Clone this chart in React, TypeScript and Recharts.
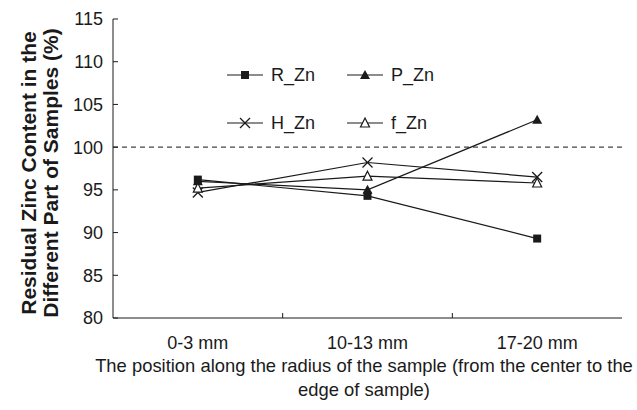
import { LineChart, Line, XAxis, YAxis, ReferenceLine, Legend } from "recharts"

const positions = ["0-3 mm", "10-13 mm", "17-20 mm"]
const slots = [0.5, 1.5, 2.5]
const rZn = [96.2, 94.3, 89.3]
const pZn = [96.0, 95.0, 103.2]
const hZn = [94.7, 98.2, 96.5]
const fZn = [95.2, 96.6, 95.8]
const yTicks = [80, 85, 90, 95, 100, 105, 110, 115]
const xTicks = [0.5, 1, 1.5, 2, 2.5]

const data = positions.map((label, i) => ({
  slot: slots[i],
  label,
  R_Zn: rZn[i],
  P_Zn: pZn[i],
  H_Zn: hZn[i],
  f_Zn: fZn[i],
}))

const font = "'Liberation Sans', Arial, Helvetica, sans-serif"
const ink = "#1a1a1a"

type Shape = "square" | "triangle" | "cross" | "openTriangle"

function Marker({ cx, cy, shape }: { cx: number; cy: number; shape: Shape }) {
  if (cx == null || cy == null) return null
  if (shape === "square") return <rect x={cx - 4} y={cy - 4} width={8} height={8} fill={ink} />
  if (shape === "triangle")
    return <polygon points={`${cx},${cy - 5} ${cx + 5},${cy + 4} ${cx - 5},${cy + 4}`} fill={ink} />
  if (shape === "openTriangle")
    return (
      <polygon
        points={`${cx},${cy - 5} ${cx + 4.5},${cy + 4} ${cx - 4.5},${cy + 4}`}
        fill="#fff"
        stroke={ink}
        strokeWidth={1.2}
      />
    )
  return (
    <g stroke={ink} strokeWidth={1.3}>
      <line x1={cx - 5} y1={cy - 5} x2={cx + 5} y2={cy + 5} />
      <line x1={cx - 5} y1={cy + 5} x2={cx + 5} y2={cy - 5} />
    </g>
  )
}

const series: { key: string; shape: Shape }[] = [
  { key: "R_Zn", shape: "square" },
  { key: "P_Zn", shape: "triangle" },
  { key: "H_Zn", shape: "cross" },
  { key: "f_Zn", shape: "openTriangle" },
]

function XTick(props: any) {
  const { x, y, payload } = props
  const v = payload.value as number
  if (Number.isInteger(v)) {
    return <line x1={x} y1={y} x2={x} y2={y - 5} stroke={ink} />
  }
  const idx = slots.indexOf(v)
  return (
    <text x={x} y={y + 25} dy="0.36em" textAnchor="middle" fontSize={18} fontFamily={font} fill={ink}>
      {positions[idx]}
    </text>
  )
}

function renderLegend() {
  const items = [
    { ...series[0], left: 0, top: 0 },
    { ...series[1], left: 120, top: 0 },
    { ...series[2], left: 0, top: 48 },
    { ...series[3], left: 120, top: 48 },
  ]
  return (
    <div style={{ position: "relative", width: 230, height: 70, fontFamily: font }}>
      {items.map((it) => (
        <div
          key={it.key}
          style={{ position: "absolute", left: it.left, top: it.top, display: "flex", alignItems: "center", height: 22 }}
        >
          <svg width={38} height={22}>
            <line x1={0} y1={11} x2={36} y2={11} stroke={ink} strokeWidth={1.2} />
            <Marker cx={18} cy={11} shape={it.shape} />
          </svg>
          <span style={{ fontSize: 18, color: ink, marginLeft: 6 }}>{it.key}</span>
        </div>
      ))}
    </div>
  )
}

export default function App() {
  return (
    <div style={{ position: "absolute", left: 0, top: 0, background: "#fff" }}>
      <LineChart width={637} height={410} data={data} margin={{ top: 19, right: 15, bottom: 0, left: 0 }}>
        <XAxis
          dataKey="slot"
          type="number"
          domain={[0, 3]}
          ticks={xTicks}
          interval={0}
          tickLine={false}
          tickSize={0}
          tickMargin={0}
          tick={<XTick />}
          height={92}
          axisLine={{ stroke: ink }}
          label={{
            content: () => (
              <text textAnchor="middle" fontSize={18.4} fontFamily={font} fill={ink}>
                <tspan x={364} y={372}>
                  The position along the radius of the sample (from the center to the
                </tspan>
                <tspan x={364} y={396}>
                  edge of sample)
                </tspan>
              </text>
            ),
          }}
        />
        <XAxis
          xAxisId="top"
          dataKey="slot"
          type="number"
          orientation="top"
          domain={[0, 3]}
          height={0}
          tick={false}
          tickLine={false}
          axisLine={{ stroke: ink }}
        />
        <YAxis
          domain={[80, 115]}
          ticks={yTicks}
          interval={0}
          width={113}
          tickSize={-5}
          tickMargin={15}
          tickLine={{ stroke: ink }}
          axisLine={{ stroke: ink }}
          tick={{ fontSize: 18, fontFamily: font, fill: ink }}
          label={{
            content: () => (
              <text
                transform="translate(28,173) rotate(-90)"
                textAnchor="middle"
                dominantBaseline="central"
                fontSize={21}
                fontWeight="bold"
                fontFamily={font}
                fill={ink}
              >
                <tspan x={0} y={0}>Residual Zinc Content in the</tspan>
                <tspan x={0} y={22}>Different Part of Samples (%)</tspan>
              </text>
            ),
          }}
        />
        <YAxis
          yAxisId="right"
          orientation="right"
          domain={[80, 115]}
          width={0}
          tick={false}
          tickLine={false}
          axisLine={{ stroke: ink }}
        />
        <ReferenceLine y={100} stroke="#444" strokeDasharray="5 4" strokeWidth={1.2} />
        <Legend
          layout="horizontal"
          verticalAlign="middle"
          align="center"
          content={renderLegend}
          wrapperStyle={{ left: 227, top: 64, width: 240 }}
        />
        {series.map((s) => (
          <Line
            key={s.key}
            dataKey={s.key}
            stroke={ink}
            strokeWidth={1.2}
            isAnimationActive={false}
            dot={(p: any) => <Marker key={`${s.key}-${p.index}`} cx={p.cx} cy={p.cy} shape={s.shape} />}
          />
        ))}
      </LineChart>
    </div>
  )
}
